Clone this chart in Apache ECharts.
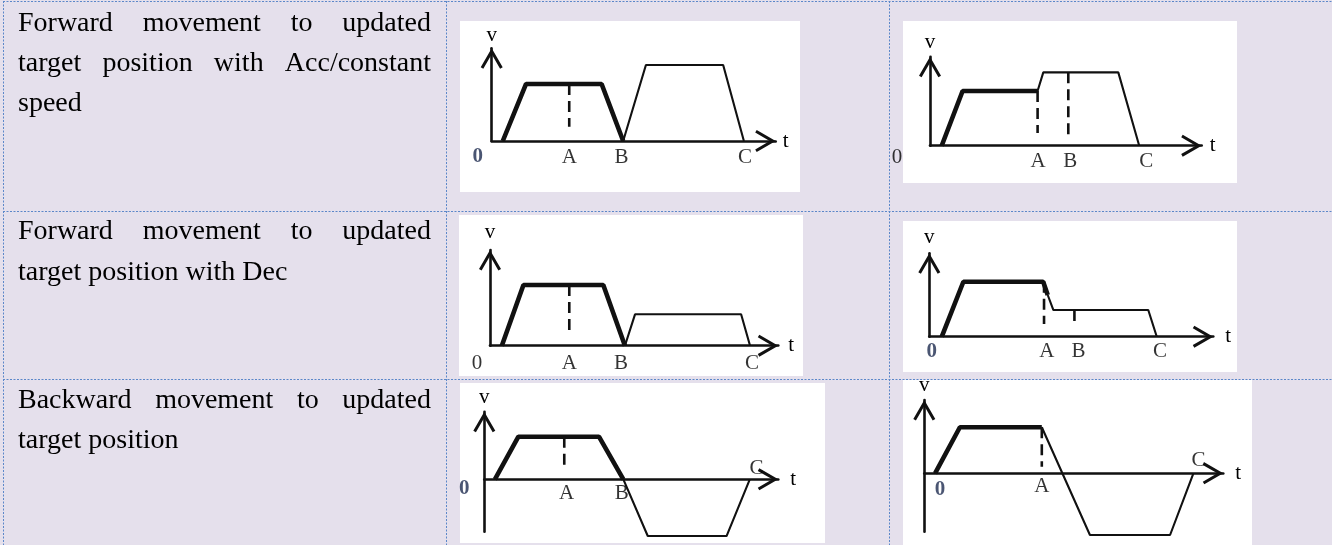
<!DOCTYPE html>
<html>
<head>
<meta charset="utf-8">
<script src="https://cdn.jsdelivr.net/npm/echarts@6/dist/echarts.min.js"></script>
<style>
html,body{margin:0;padding:0;background:#e5e0ec;}
#c{width:1332px;height:545px;}
</style>
</head>
<body>
<div id="c"></div>
<script>
// ================= DATA =================
// Row description texts (first column)
const row1Text = ['Forward movement to updated', 'target position with Acc/constant', 'speed'];
const row2Text = ['Forward movement to updated', 'target position with Dec'];
const row3Text = ['Backward movement to updated', 'target position'];

// Diagram 1 (row 1, left): original profile (bold) then new profile
const d1HeldT = [3.9, 12.1, 38.7, 46.3];
const d1HeldV = [0, 61.5, 61.5, 0];
const d1NewT = [46.3, 54.3, 81.5, 88.8];
const d1NewV = [0, 82, 82, 0];
const d1MarkT = [27.3];
const d1MarkTop = [61.5];
const d1MarkBottom = [15.4];
const d1Labels = ['0', 'A', 'B', 'C'];
const d1LabelT = [0, 27.3, 46.3, 88.8];
const d1VRange = [0, 100];

// Diagram 2 (row 1, right)
const d2HeldT = [4.3, 12.0, 39.6];
const d2HeldV = [0, 61.5, 61.5];
const d2NewT = [39.6, 41.7, 69.3, 77.0];
const d2NewV = [61.5, 82.4, 82.4, 0];
const d2MarkT = [39.6, 50.9];
const d2MarkTop = [61.5, 82.4];
const d2MarkBottom = [14.3, 8];
const d2Labels = ['0', 'A', 'B', 'C'];
const d2LabelT = [0, 39.6, 50.9, 77.0];
const d2VRange = [0, 100];

// Diagram 3 (row 2, left)
const d3HeldT = [4.1, 11.6, 39.3, 46.8];
const d3HeldV = [0, 63.4, 63.4, 0];
const d3NewT = [46.8, 50.3, 87.1, 90.2];
const d3NewV = [0, 32.8, 32.8, 0];
const d3MarkT = [27.5];
const d3MarkTop = [63.4];
const d3MarkBottom = [16.4];
const d3Labels = ['0', 'A', 'B', 'C'];
const d3LabelT = [0, 27.5, 46.8, 90.2];
const d3VRange = [0, 100];

// Diagram 4 (row 2, right)
const d4HeldT = [4.4, 12.0, 40.1, 41.7];
const d4HeldV = [0, 65.9, 65.9, 50];
const d4NewT = [41.7, 43.7, 77.1, 80.1];
const d4NewV = [50, 32.0, 32.0, 0];
const d4MarkT = [40.4, 51.1];
const d4MarkTop = [65.9, 32.0];
const d4MarkBottom = [15.2, 14];
const d4Labels = ['0', 'A', 'B', 'C'];
const d4LabelT = [0, 40.4, 51.1, 80.1];
const d4VRange = [0, 100];

// Diagram 5 (row 3, left)
const d5HeldT = [3.6, 11.6, 39.0, 47.3];
const d5HeldV = [0, 63, 63, 0];
const d5NewT = [47.3, 55.6, 82.4, 90.3];
const d5NewV = [0, -83.9, -83.9, 0];
const d5MarkT = [27.2];
const d5MarkTop = [63];
const d5MarkBottom = [13.8];
const d5Labels = ['0', 'A', 'B', 'C'];
const d5LabelT = [0, 27.2, 47.3, 90.3];
const d5VRange = [-77.5, 100];

// Diagram 6 (row 3, right)
const d6HeldT = [3.6, 11.9, 39.3];
const d6HeldV = [0, 62.8, 62.8];
const d6NewT = [39.3, 55.4, 82.2, 90.0];
const d6NewV = [62.8, -84.2, -84.2, 0];
const d6MarkT = [39.3];
const d6MarkTop = [62.8];
const d6MarkBottom = [9];
const d6Labels = ['0', 'A', 'C'];
const d6LabelT = [0, 39.3, 90.0];
const d6VRange = [-79.7, 100];

// ================= LAYOUT / STYLE =================
const SERIF = '"Liberation Serif", "Times New Roman", serif';
const INK = '#111111';
const BG = '#e5e0ec';
const RULE = '#5b87c9';
// open chevron arrow (points up, tip at symbol centre)
const ARROW = 'path://M11,-20.5L11.01,-20.5L11,-20.49Z M11,0L22,19L19.4,20.5L11,6L2.6,20.5L0,19Z';

const layouts = [
  {left: 491.7, top: 48.3, width: 284, height: 92.7, vGap: 2.5, tGap: 7, tPad: 11,
   offs: [[-14, 16], [0, 16], [-1.6, 16], [1, 16]], zeroBold: true},
  {left: 930, top: 56.7, width: 271.7, height: 89, vGap: 3.6, tGap: 8, tPad: 7,
   offs: [[-33, 12], [0.6, 16], [2, 16], [7, 16]], zeroBold: false},
  {left: 490, top: 250, width: 288.3, height: 95.7, vGap: 6.9, tGap: 10, tPad: 0,
   offs: [[-13, 18], [0, 18], [-4, 18], [2, 18]], zeroBold: false},
  {left: 929.3, top: 253.3, width: 284, height: 83.4, vGap: 5.2, tGap: 12, tPad: 5,
   offs: [[2.4, 15], [2.7, 15], [4, 15], [3.3, 15]], zeroBold: true},
  {left: 484.3, top: 411.7, width: 294, height: 120, vGap: 3.6, tGap: 12, tPad: 9,
   offs: [[-20, 9], [2.4, 14], [-1.6, 14], [6.7, -11]], zeroBold: true},
  {left: 924.3, top: 400, width: 299, height: 131.7, vGap: 3.6, tGap: 12, tPad: 11,
   offs: [[15.7, 16.7], [0, 12.7], [5, -13.3]], zeroBold: true}
];

const whiteBoxes = [
  [460, 21, 340, 171], [903, 21, 334, 162],
  [459, 215, 344, 161], [903, 221, 334, 151],
  [460, 383, 365, 160], [903, 380, 349, 165]
];

const diagrams = [
  {held: [d1HeldT, d1HeldV], upd: [d1NewT, d1NewV], mark: [d1MarkT, d1MarkTop, d1MarkBottom], lab: [d1Labels, d1LabelT], vr: d1VRange},
  {held: [d2HeldT, d2HeldV], upd: [d2NewT, d2NewV], mark: [d2MarkT, d2MarkTop, d2MarkBottom], lab: [d2Labels, d2LabelT], vr: d2VRange},
  {held: [d3HeldT, d3HeldV], upd: [d3NewT, d3NewV], mark: [d3MarkT, d3MarkTop, d3MarkBottom], lab: [d3Labels, d3LabelT], vr: d3VRange},
  {held: [d4HeldT, d4HeldV], upd: [d4NewT, d4NewV], mark: [d4MarkT, d4MarkTop, d4MarkBottom], lab: [d4Labels, d4LabelT], vr: d4VRange},
  {held: [d5HeldT, d5HeldV], upd: [d5NewT, d5NewV], mark: [d5MarkT, d5MarkTop, d5MarkBottom], lab: [d5Labels, d5LabelT], vr: d5VRange},
  {held: [d6HeldT, d6HeldV], upd: [d6NewT, d6NewV], mark: [d6MarkT, d6MarkTop, d6MarkBottom], lab: [d6Labels, d6LabelT], vr: d6VRange}
];

function zip(a, b) { return a.map((v, i) => [v, b[i]]); }

const grids = [], xAxes = [], yAxes = [], series = [];
diagrams.forEach((d, i) => {
  const L = layouts[i];
  grids.push({left: L.left, top: L.top, width: L.width, height: L.height, containLabel: false, outerBoundsMode: 'none'});
  const axisLine = {show: true, onZero: true, symbol: ['none', ARROW], symbolSize: [22, 41],
    lineStyle: {color: INK, width: 2.6}};
  xAxes.push({gridIndex: i, type: 'value', min: 0, max: 100,
    name: 't', nameLocation: 'end', nameGap: L.tGap,
    nameTextStyle: {fontFamily: SERIF, fontSize: 21, color: '#000', padding: [L.tPad, 0, 0, 0]},
    axisLine: axisLine, axisTick: {show: false}, axisLabel: {show: false}, splitLine: {show: false}});
  yAxes.push({gridIndex: i, type: 'value', min: d.vr[0], max: d.vr[1],
    name: 'v', nameLocation: 'end', nameGap: L.vGap,
    nameTextStyle: {fontFamily: SERIF, fontSize: 21, color: '#000'},
    axisLine: axisLine, axisTick: {show: false}, axisLabel: {show: false}, splitLine: {show: false}});
  const common = {xAxisIndex: i, yAxisIndex: i, symbol: 'none', clip: false, silent: true, animation: false};
  series.push(Object.assign({type: 'line', data: zip(d.held[0], d.held[1]),
    lineStyle: {color: INK, width: 4.6}, z: 3}, common));
  series.push(Object.assign({type: 'line', data: zip(d.upd[0], d.upd[1]),
    lineStyle: {color: INK, width: 2.1}, z: 3}, common));
  d.mark[0].forEach((t, k) => {
    series.push(Object.assign({type: 'line', data: [[t, d.mark[1][k]], [t, d.mark[2][k]]],
      lineStyle: {color: INK, width: 2.6, type: [11, 6]}, z: 3}, common));
  });
  series.push({type: 'scatter', xAxisIndex: i, yAxisIndex: i, clip: false, silent: true, animation: false,
    symbolSize: 1, itemStyle: {color: 'rgba(0,0,0,0)'},
    label: {show: true, position: 'inside', formatter: '{b}', fontFamily: SERIF, fontSize: 21, color: '#000'},
    data: d.lab[0].map((n, k) => ({
      name: n, value: [d.lab[1][k], 0],
      label: {offset: L.offs[k],
        fontWeight: (n === '0' && L.zeroBold) ? 'bold' : 'normal',
        color: (n === '0' && L.zeroBold) ? '#1d2b4f' : '#000'}
    }))
  });
});

// ---- table graphics ----
const TEXT_FONT = '28px ' + SERIF;
const measureCtx = document.createElement('canvas').getContext('2d');
measureCtx.font = TEXT_FONT;
const graphics = [];
whiteBoxes.forEach(b => graphics.push({type: 'rect', z: -10, silent: true,
  shape: {x: b[0], y: b[1], width: b[2], height: b[3]}, style: {fill: '#ffffff'}}));
[3.5, 446.5, 889.5].forEach(x => graphics.push({type: 'line', z: -5, silent: true,
  shape: {x1: x, y1: 1, x2: x, y2: 545}, style: {stroke: RULE, lineWidth: 1, lineDash: [2, 1.5]}}));
[1.5, 211.5, 379.5].forEach(y => graphics.push({type: 'line', z: -5, silent: true,
  shape: {x1: 3, y1: y, x2: 1332, y2: y}, style: {stroke: RULE, lineWidth: 1, lineDash: [2, 1.5]}}));

const TX0 = 18, TX1 = 431;
function addParagraph(lines, firstMiddle, lineStep) {
  lines.forEach((line, li) => {
    const y = firstMiddle + li * lineStep;
    const justify = li < lines.length - 1;
    const words = line.split(' ');
    if (!justify) {
      graphics.push({type: 'text', z: -5, silent: true, x: TX0, y: y,
        style: {text: line, font: TEXT_FONT, fill: '#000', align: 'left', verticalAlign: 'middle'}});
      return;
    }
    const widths = words.map(w => measureCtx.measureText(w).width);
    const total = widths.reduce((a, b) => a + b, 0);
    const gap = (TX1 - TX0 - total) / (words.length - 1);
    let x = TX0;
    words.forEach((w, k) => {
      graphics.push({type: 'text', z: -5, silent: true, x: x, y: y,
        style: {text: w, font: TEXT_FONT, fill: '#000', align: 'left', verticalAlign: 'middle'}});
      x += widths[k] + gap;
    });
  });
}
addParagraph(row1Text, 24, 40);
addParagraph(row2Text, 232, 41);
addParagraph(row3Text, 401, 40);

const chart = echarts.init(document.getElementById('c'), null, {renderer: 'canvas', width: 1332, height: 545});
chart.setOption({
  backgroundColor: BG,
  animation: false,
  graphic: {elements: graphics},
  grid: grids,
  xAxis: xAxes,
  yAxis: yAxes,
  series: series
});
</script>
</body>
</html>
